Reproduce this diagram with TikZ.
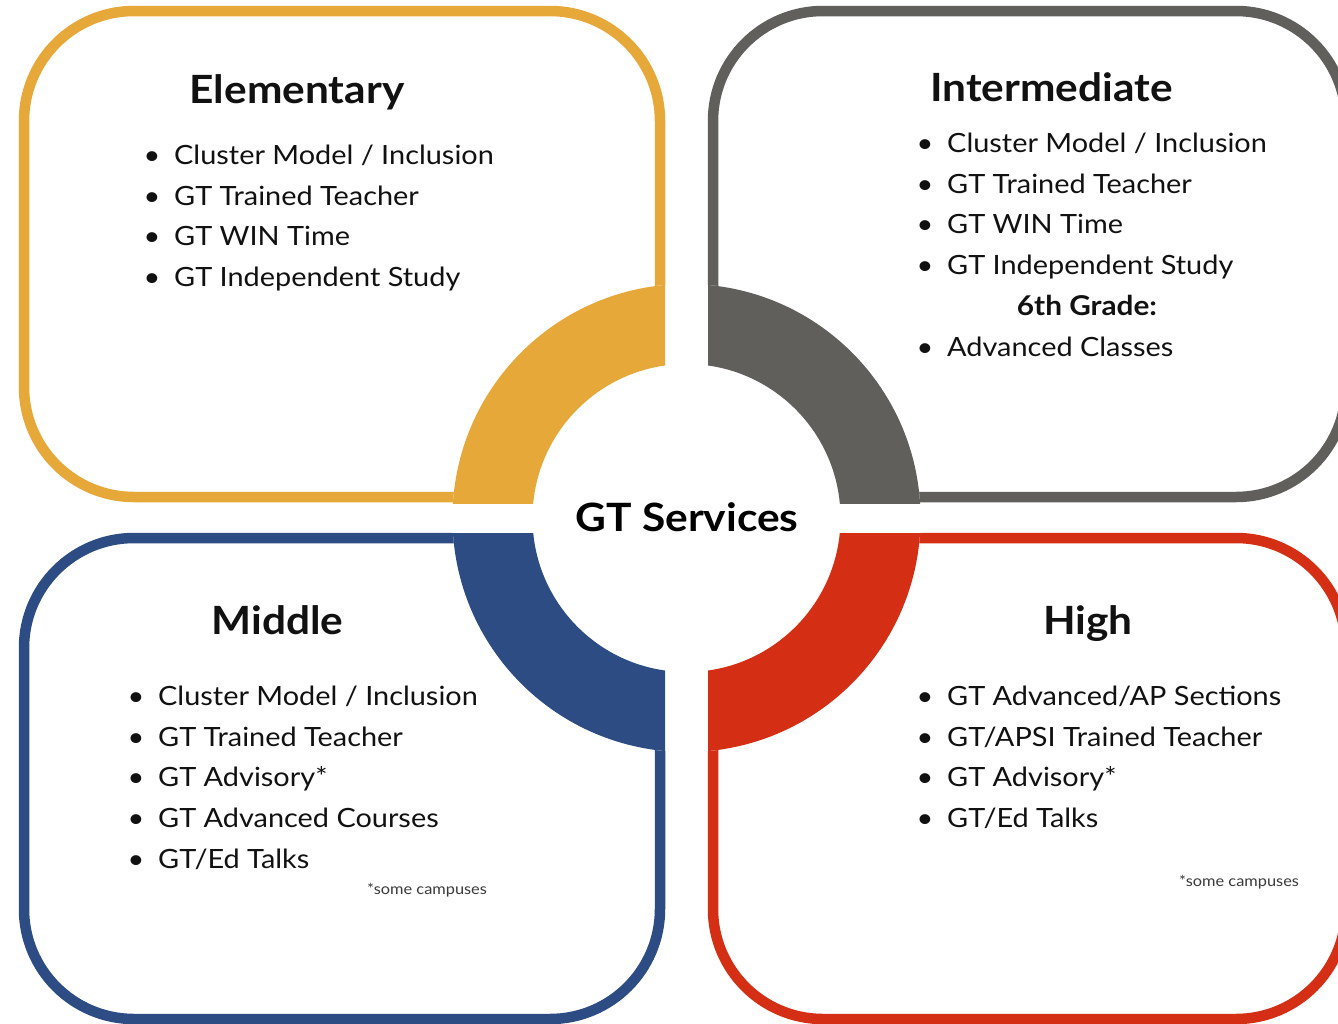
\documentclass[tikz,border=0pt]{standalone}
\usepackage{fontspec}
\setmainfont{Lato}[FakeStretch=1.09]
\definecolor{cyel}{HTML}{E6A838}
\definecolor{cgry}{HTML}{605F5C}
\definecolor{cblu}{HTML}{2D4C84}
\definecolor{cred}{HTML}{D42F14}
\definecolor{ctxt}{HTML}{111111}
\definecolor{cnote}{HTML}{3A3A3A}
\tikzset{
  panel/.style={line width=10.5, rounded corners=110, fill=white},
  heading/.style={inner sep=0, anchor=base, font=\fontsize{38.9}{44}\selectfont\bfseries, text=ctxt},
  itemtext/.style={inner sep=0, anchor=base west, font=\fontsize{26.5}{32}\selectfont, text=ctxt},
  bul/.style={inner sep=0, anchor=base, font=\fontsize{26.5}{32}\selectfont, text=ctxt},
  note/.style={inner sep=0, anchor=base west, font=\fontsize{15}{17}\selectfont, text=cnote},
  title/.style={inner sep=0, anchor=base, font=\fontsize{39}{46}\selectfont\bfseries, text=black},
}
\newcommand{\bitem}[4]{%
  \node[itemtext] (#1) at (#2,#3) {#4};
  \node[bul] (#1b) at (#2-22,#3) {•};
}
\begin{document}
\begin{tikzpicture}[x=1pt,y=-1pt]
\useasboundingbox (0,0) rectangle (1338,1023);
\clip (0,0) rectangle (1338,1023);
\fill[white] (0,0) rectangle (1338,1023);
% panels
\draw[panel, draw=cyel] (24,11) rectangle (660,497);
\draw[panel, draw=cgry] (713,11) rectangle (1346,497);
\draw[panel, draw=cblu] (24,538) rectangle (660,1019);
\draw[panel, draw=cred] (713,538) rectangle (1346,1019);
% ring
\coordinate (c) at (686.5,518);
\fill[white] (c) circle (234);
\begin{scope}
  \clip (400,250) rectangle (665,503);
  \fill[cyel, even odd rule] (c) circle (234) (c) circle (154);
\end{scope}
\begin{scope}
  \clip (708,250) rectangle (980,503);
  \fill[cgry, even odd rule] (c) circle (234) (c) circle (154);
\end{scope}
\begin{scope}
  \clip (400,533) rectangle (665,800);
  \fill[cblu, even odd rule] (c) circle (234) (c) circle (154);
\end{scope}
\begin{scope}
  \clip (708,533) rectangle (980,800);
  \fill[cred, even odd rule] (c) circle (234) (c) circle (154);
\end{scope}
\node[title] (gts) at (687,531) {GT Services};
% Elementary
\node[heading] (elem) at (297,103) {Elementary};
\bitem{e1}{174}{164}{Cluster Model / Inclusion}
\bitem{e2}{174}{205}{GT Trained Teacher}
\bitem{e3}{174}{245}{GT WIN Time}
\bitem{e4}{174}{286}{GT Independent Study}
% Intermediate
\node[heading] (inter) at (1051.5,101.5) {Intermediate};
\bitem{i1}{947}{152}{Cluster Model / Inclusion}
\bitem{i2}{947}{193}{GT Trained Teacher}
\bitem{i3}{947}{233}{GT WIN Time}
\bitem{i4}{947}{274}{GT Independent Study}
\node[inner sep=0, anchor=base, font=\fontsize{27.3}{32}\selectfont\bfseries, text=ctxt] (sixth) at (1087,315) {6th Grade:};
\bitem{i5}{947}{356}{Advanced Classes}
% Middle
\node[heading] (mid) at (277.5,634.5) {Middle};
\bitem{m1}{158}{705}{Cluster Model / Inclusion}
\bitem{m2}{158}{746}{GT Trained Teacher}
\bitem{m3}{158}{786}{GT Advisory*}
\bitem{m4}{158}{827}{GT Advanced Courses}
\bitem{m5}{158}{868}{GT/Ed Talks}
\node[note] (mnote) at (367,894) {*some campuses};
% High
\node[heading] (high) at (1088,634.5) {High};
\bitem{h1}{947}{705}{GT Advanced/AP Sections}
\bitem{h2}{947}{746}{GT/APSI Trained Teacher}
\bitem{h3}{947}{786}{GT Advisory*}
\bitem{h4}{947}{827}{GT/Ed Talks}
\node[note] (hnote) at (1179,886) {*some campuses};
\end{tikzpicture}
\end{document}
